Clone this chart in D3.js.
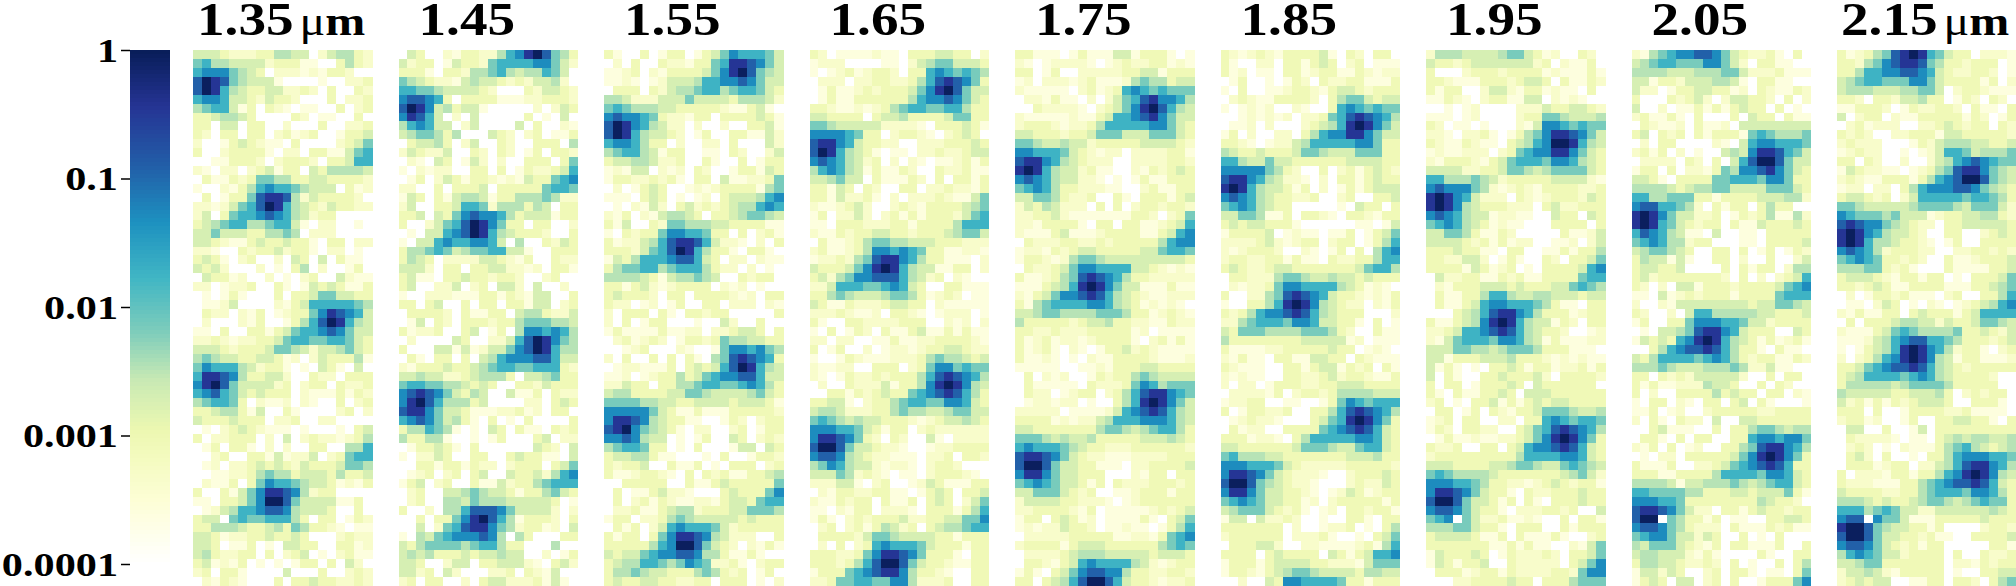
<!DOCTYPE html>
<html>
<head>
<meta charset="utf-8">
<script src="https://cdn.jsdelivr.net/npm/d3@7"></script>
<style>
  html, body { margin: 0; padding: 0; background: #fff; overflow: hidden; }
  svg { display: block; }
  text { font-family: "Liberation Serif", serif; font-weight: bold; fill: #000; }
</style>
</head>
<body>
<script>
// wavelength of each panel, left to right
const wavelengths = ["1.35", "1.45", "1.55", "1.65", "1.75", "1.85", "1.95", "2.05", "2.15"];
const unitPanels = ["1.35", "2.15"];
const barTicks = [1, 0.1, 0.01, 0.001, 0.0001];

// each cell holds a level, 0-9 then a, b
const levelValues = [0.0001, 0.00025, 0.00045, 0.0009, 0.0019, 0.0033, 0.007, 0.018, 0.05, 0.12, 0.35, 0.9];

const rows135 = [
"44432223355440245532","67554444233311003532","78886543022212133200","9ba96544410000100223","9ba75433442232030032",
"78874432433200030223","56774130321011003023","33455430000320110030","33044033002000300223","32033033023123001334",
"20013432110300002346","30023333102203311467","00113332023332033477","21022023413304355554","03113236655334433332",
"10021357877654440312","03013369aa9524333320","22124679ba7543243322","24036778987542330000","34567755677410220010",
"44644433556502220000","44321134334331033022","22100323342331022010","34310230020430403110","43420002010350200130",
"04331200201023004211","22012230031014343113","01013100030334664433","01124000021347777765","032202130123368a9874",
"020002130013579ba754","11030033134677898644","22321223346776677643","44432333466542445643","56544334431202433351",
"68777542331010431040","7aa98533442003220333","8ab96444423023303223","78976434333021113132","56776302112021003023",
"33455314003100002302","43334333022300220000","01023432111010001034","30223330204023221235","01303310202003300557",
"00230033141224023677","01202234343243334665","00112235655344435334","02113036877654431213","30031468aa9852330000",
"11033468bb9644441130","01245778998544430030","34406766777530330132","33555433453653321011","44312233433430002322",
"44301130104433003312","45322330302340102311","34121301010133030420","23033100004000300232","02132100030334332232"];

const rows145 = [
"04300213322578ab9653","42330143326777788642","33310332556754557640","65432214544323244520","77665444432000324432",
"89987303333111223332","9ba84534410000020243","8a974020400000301040","57874402400004030021","45665350004320230113",
"03445302400320033305","24322400320320130332","02104301420200333036","10212200330301322347","01302431332121433678",
"22003033340333336776","14303145541335556522","24003347762555354033","33404368988753444133","30024679ba8633033002",
"01044789ba7543332003","10447877887405003243","35567645667744100333","35430222244321300322","44420330334422120331",
"34110334332332002300","34002240230442040020","10022211133132144003","33034003033033144023","03333203113304553224",
"01403203332335666554","31223003401305887875","020000430022479ba865","300044141244689ba755","03103303045788899744",
"21333433456776677732","44544223455530445633","67766554343003324333","89a98643540041130322","8ab97555340000220343",
"9aa86443111223120330","78986453103010300003","35576510104303110323","53355100101300034022","01334310300000043204",
"10224300330034331104","00331331322023330346","01230230340043342578","13402300311423356777","02300445654431335643",
"02300554655544444301","30020557999864444202","00303368ab9751333203","00402679aa8652331204","10546788898505300033",
"43566665677533000500","45453334344544002013","44300244033444210342","44230420002230321400","23033002034422231410"];

const rows155 = [
"31003013301346877764","02030032213367aa9864","11230213333468ab9654","11210124445778898644","03330324556775677643",
"55422244464444355542","67655544333332113410","89887632213303333431","9ba87542202002003341","9ba75443201300331142",
"78875330200220300042","56775413300110320024","34455422300310030133","12144021203200133143","13322323103304112236",
"02013430012123333156","11103430101203444578","01021420342323455787","21302145543033456654","31400326655544333311",
"10323368877633030231","31224579aa9742210203","33324679ba7533103310","14357778997430220211","35667756777532202010",
"55554314556540032330","33134212333302120100","34333203303333212033","32201201300330222021","20333031033233000003",
"20301330001004200300","13111131122022344303","02312320133236554433","00123000210016887865","203003030310569a9873",
"012211130343479ba754","11201233534678899744","22433033556776678753","45533334466544445643","66665544334444344431",
"88888643113111333332","8aa98543311001320233","9ab86543102200230133","88985440101300430232","56776330103000144043",
"34455311000103001332","32334003113010333023","31123321030323113345","00333330031134333336","03011342210003433368",
"03023132112213443677","02231134552333446665","13302235654444434333","03130247877764233333","31330368aa9854222003",
"33333578bb9643202131","43446788998553113100","34557765687622310233","35565443335653230130","34334433223303330102"];

const rows165 = [
"32011112110333443302","12220000110245664443","10123123320337876765","022202233223579a9863","01311232333468ab9644",
"01311333333578898643","33211212356776677533","44333303445333346633","66544444222210333431","88887633023321023430",
"9aa87433220022233343","9ba75431011022322344","89875423020210112313","57875413113200322311","44564403111320303313",
"33143032003302232213","33142231020222321146","21123420023213333456","13022420231313332467","11033322233133335777",
"21132334433233345664","03112356655444333222","23112358878763311221","12232569aa8753311102","4333468aba7544113302",
"34256889997542302100","22477766787430033111","33565444566531232011","43113222344330211111","22232112033210122201",
"31003322223330021202","10301320311341131311","22022001131122333321","30130020122123344322","10013211122235655434",
"21122003330236886766","210132232333579a9875","02003222413358aba854","003313234336789a9753","33441023356776688743",
"45542223356554456644","67654544333212344543","88877643133023222222","8aa98632032004102222","9bb96443221001223333",
"89985432211102230332","56875442122102332000","44465232101102333210","22244102300124311133","02133223311013430334",
"21132330311303430246","11021330222103331357","13102323334223344668","02302313542303455677","03333246654444331333",
"02030237877764333133","33322368aa9863331033","33323579bb9643321133","13336789aa8533210033","22366776688522230033"];

const rows175 = [
"33111013111441333101","21012222101232233121","33013002222233441333","12022212311125655344","21111102312378767666",
"022131102024679a8875","00322221023468ab9754","211111211347789a8644","23332122357777788643","44333233466644466643",
"66544544233333444432","88777643212202222331","9aa87543222002222332","aba75442311002132343","89875442210101311333",
"67875332221100231133","44665322300310333134","24354222030302332332","22334211111113320236","22133331033033112347",
"21113411123333113478","03222332232333335788","12213234433333446776","13321256654444444443","03223468877774432121",
"31123569a98753322222","1113457aba8644111311","21346889a97543211222","31567777887543121210","44566555566653312321",
"53333323445332211322","33223222333331201111","31231221233331023131","31231021013342321111","31121010211333321112",
"11111001121333443333","03021200132335654444","03111110322236875666","032201233023579aa876","01221220100357aba864",
"222220111124789a9754","33331212245777888754","44333333356654567753","66654544533333444543","78777654332223333332",
"9aa98643221112222333","9bb96443311102233334","8aa86443330002133033","67876443130322233323","44666432300112333133",
"24444332221012333333","22333321301111123234","13303431201111310346","12122433201121101357","02222233333112213678",
"23333134443333335676","02222345554444434443","03321347877775421233","13103468998853322332","33034579bb9743321223"];

const rows185 = [
"32123213333410320330","31002203313430230111","31201103312331132122","01300101320322331113","10300112332134432333",
"02321133332035664344","10121200210037876766","001212120223679a9875","01120200023457aba864","13020022035788aa8644",
"33210122457777788633","54334333466544466633","77544644333333444433","88888653200302313432","9aa87542210203313433",
"aba75443130201313444","89875433223002300334","67875433000001043303","44665113033210332133","34344333100000011014",
"13333401211011301346","22223421233023301357","21233320021013030578","23322331311032233577","34322344333333346775",
"03322256654454434333","02122368877775431210","30022569a98743321213","1003357aba8543220213","32357889a97543330002",
"22567776887443310301","43666555566653200311","53333333344444120111","31111223333343301210","21311033114433032111",
"32111003313441323031","21211003322342332113","20220133322334443333","02222130233235555444","12233001100136876777",
"301332230033579a9875","01232210003467aba863","031220033336789a9743","33312210357777788743","44333333466654467743",
"67555443333333444533","88877764322222333332","8aa98643222100233343","9bb96543221000232243","8aa86443321012431233",
"67876443312023333313","45666432310120332331","14404223200100331033","33333330200122301035","23333330222310010346",
"03334420022111123157","33330343333043134778","13331344443322214666","13321345665444435544","00200438877776331333"];

const rows195 = [
"25554444566431200320","43323444444423021130","30002333233331211131","33211133323443031132","31330024421331211030",
"11321023311440212100","00101200002224334432","11101200002336654445","32011010002148876766","22102231013568aa9864",
"32113211034578bba754","12112220236788aa8643","21333213467776887543","44442233466545666643","77555654233333444421",
"89888652123213333223","aba87422203212333243","aba85433322203422333","89875441221100433043","67875431211000333303",
"44665311320000031124","44443231312200112024","33343311033001131335","33224420131003203346","33331431230103333478",
"04223311323113333677","02133344434333446765","03113357754455444344","03113478877765311033","00034579aa8753331233",
"3113458aba7544132033","22347789a97543320012","21467776887541311122","44466554566653331110","44133344453332121211",
"41310103343133122313","40310033433342033332","30330133343043333330","31031133430444333333","23010334131343443333",
"03301303213346665445","12303300220337876776","132033220034679a9875","01311211223468aba863","322300330347889a9743",
"23333333335777788743","44433334456654467654","67655554333333345642","88877653322123432331","8aa98643310322333433",
"9bb96443130310333433","89986433102223323004","67806422311210030331","55566433103330031333","34444311303111310023",
"33333331131311002146","14333430132223203346","14313340032222203468","03331233132222332688","00022333343303335666"];

const rows205 = [
"21567889986432231030","45677666886420331100","55554445556642223111","44133244455410331100","42201334433120321132",
"30003234202443320302","40020113131343303010","23113103000304330311","03211203112044444444","34032303133316765556",
"02033000021047887776","23130201004548aa9764","02222032030479bb9644","133030221365889a8643","44310333366777688633",
"55554345566444466643","77556663313333444552","89977652031330353300","aba86442230132351152","aba76432330311433343",
"79875411040011033333","67875523300011033334","45665430033030130132","35441410033020030024","34433400003031330255",
"34233333332030202347","32020441333233334678","11041232333133336777","20021444444443446654","32002047755555443334",
"13003368887764423333","01044569aa8743330043","1434378aba7543131231","00357899a97533103110","43577776787532331132",
"55565444555652241100","33032324444420030330","31311222544300303200","30200333353433033021","10330210330340310001",
"11301200233333223333","20310322040044333333","00341110030335665455","03310303300337887886","213030120033569aa875",
"01022033333468aba863","311130022346789a9733","33311333357777688743","55554144555654567743","77666655333443444631",
"88877633333333543320","9aa98642203313433233","9bb06533130110033443","89986532220311132311","67886442430030103000",
"54666432130331113003","45544421310000310033","35544322320301003035","14424300230331011036","13430440230300133368"];

const rows215 = [
"3123569aba7643302221","3325689aa96533233301","33577889987432233201","45677666886433331302","45554445566402332111",
"33203324453301320320","11333201322332031103","40233021133333132013","02312220022343233032","32320022333144333332",
"23222000132455544334","12322001012477645556","33032002002457898766","14322110123569aa8654","23211333135789bb9654",
"12202203578889986543","34432302477777677653","66544444566665466642","87666564441233445532","9a988654322033444443",
"aba87544320033002343","aba75543321013003333","89875233322002233232","67876332320031123334","55566323100031111334",
"34443213313301033346","33234311333311133456","02013323111023003357","01102430102101234578","21311330343331347777",
"03033345544243346654","21113467655556334324","11124578997765333234","1013457aba8752331023","2023578aba8541331112",
"33467899a97543233333","34577776787543333200","35555545666653333300","54444433444530232330","42313132344430033310",
"33303001333322311110","23312001300334433103","04400300140333333333","03222210110345455445","02320102111356754345",
"03420300103357888776","033312330224579aa875","30222133133578aba854","322211133567899a9743","43333223356777688753",
"55543433456654567663","77756764422444444543","89908664111333334333","abb96544331300002332","9bb96443323110033334",
"89986432313300000331","57876442333303003223","44566333333302213233","24454213333301003344","23434400113303320356"];

const panelRows = [rows135, rows145, rows155, rows165, rows175, rows185, rows195, rows205, rows215];

const width = 2016, height = 586;
const nCols = 20, nRows = 60;

const svg = d3.select("body").append("svg")
    .attr("width", width)
    .attr("height", height);

// white at the bottom, then the yellow green blue ramp
const rampStops = [0, 0.125, 0.26, 0.36, 0.45, 0.555, 0.665, 0.775, 0.89, 1];
const color = d3.scaleLog()
    .domain(rampStops.map(t => Math.pow(10, -4 + 4 * t)))
    .range(["#ffffff", "#fdfed5", "#edf8b1", "#c7e9b4", "#7fcdbb", "#41b6c4", "#1d91c0", "#225ea8", "#253494", "#081d58"]);

const panelX = d3.scalePoint().domain(wavelengths).range([193, 1837]);
const cellX = d3.scaleBand().domain(d3.range(nCols)).range([0, 179]);
const cellY = d3.scaleBand().domain(d3.range(nRows)).range([50, 586]);

// panels
wavelengths.forEach((w, p) => {
    const cells = [];
    panelRows[p].forEach((row, r) => {
        row.split("").slice(0, nCols).forEach((c, i) => {
            cells.push({ r: r, i: i, value: levelValues[parseInt(c, 12)] });
        });
    });

    const g = svg.append("g").attr("transform", `translate(${panelX(w)},0)`);
    g.selectAll("rect")
        .data(cells)
        .enter().append("rect")
        .attr("x", d => cellX(d.i))
        .attr("y", d => cellY(d.r))
        .attr("width", cellX.bandwidth() + 0.5)
        .attr("height", cellY.bandwidth() + 0.5)
        .attr("shape-rendering", "crispEdges")
        .attr("fill", d => color(d.value));

    // titles, only the end panels carry the unit
    const hasUnit = unitPanels.includes(w);
    const title = svg.append("text")
        .attr("transform", `translate(${panelX(w) + (hasUnit ? 4 : 20)},35) scale(1.2,1)`)
        .attr("font-size", 46)
        .text(w);
    if (hasUnit) {
        title.append("tspan").attr("dx", 5).attr("font-weight", "normal").attr("font-size", 40).text("μ");
        title.append("tspan").attr("font-size", 40).text("m");
    }
});

// colour bar
const barY = d3.scaleLog().domain([0.0001, 1]).range([564, 50]);
const barSteps = d3.range(0, 514, 4);
svg.append("g").selectAll("rect")
    .data(barSteps)
    .enter().append("rect")
    .attr("x", 130)
    .attr("y", d => 50 + d)
    .attr("width", 40)
    .attr("height", 4.5)
    .attr("shape-rendering", "crispEdges")
    .attr("fill", d => color(barY.invert(52 + d)));

const barAxis = svg.append("g")
    .attr("transform", "translate(130,0)")
    .call(d3.axisLeft(barY).tickValues(barTicks).tickFormat(String).tickSize(9));
barAxis.select(".domain").remove();
barAxis.selectAll("line").attr("stroke", "#000").attr("stroke-width", 1.5);
barAxis.selectAll("text")
    .attr("x", 0)
    .attr("dy", "0.34em")
    .attr("font-size", 33)
    .attr("transform", "translate(-12,0) scale(1.28,1)")
    .style("font-family", '"Liberation Serif", serif')
    .style("font-weight", "bold");
</script>
</body>
</html>
